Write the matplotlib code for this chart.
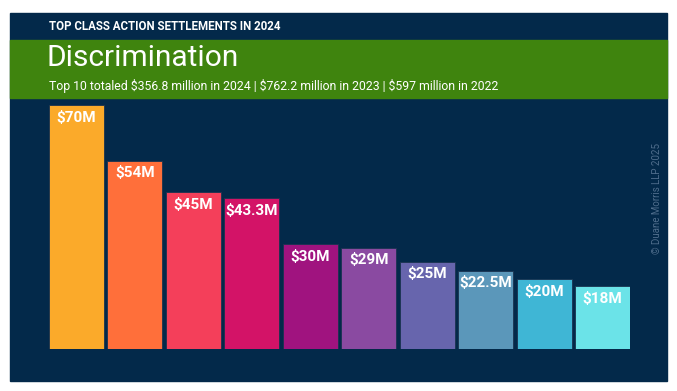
import matplotlib.pyplot as plt
from matplotlib.patches import Rectangle

plt.rcParams['font.family'] = ['Roboto', 'DejaVu Sans']

amounts = [70, 54, 45, 43.3, 30, 29, 25, 22.5, 20, 18]
labels = ['$70M', '$54M', '$45M', '$43.3M', '$30M', '$29M', '$25M', '$22.5M', '$20M', '$18M']
colors = ['#FBAA2A', '#FF6F3A', '#F43F5A', '#D31367', '#A0137F',
          '#8A4AA1', '#6765AD', '#5B97BA', '#3FB6D5', '#6BE3E8']

W, H = 677, 391
navy = '#03294A'
green = '#3F840E'

fig = plt.figure(figsize=(W / 100, H / 100), dpi=100, facecolor='white')


def fx(px):
    return px / W


def fy(py):
    return 1 - py / H


# dark panel and green header band
fig.patches.append(Rectangle((fx(10), fy(381)), fx(667) - fx(10), fy(13) - fy(381),
                             transform=fig.transFigure, color=navy, zorder=0))
fig.patches.append(Rectangle((fx(10), fy(98)), fx(667) - fx(10), fy(40) - fy(98),
                             transform=fig.transFigure, color=green, zorder=1))

fig.text(fx(49), fy(26), 'TOP CLASS ACTION SETTLEMENTS IN 2024', color='white',
         fontsize=8.3, fontweight='bold', va='center')
fig.text(fx(46), fy(58), 'Discrimination', color='white', fontsize=21.5, va='center')
fig.text(fx(49), fy(86), 'Top 10 totaled $356.8 million in 2024 | $762.2 million in 2023 | $597 million in 2022',
         color='white', fontsize=8.8, va='center')
fig.text(fx(657), fy(198), '\u00a9 Duane Morris LLP 2025', color='#4F6D8C', fontsize=7,
         rotation=90, ha='center', va='center')

ax = fig.add_axes([fx(49), fy(349), fx(630) - fx(49), fy(105) - fy(349)])
ax.set_zorder(5)
ax.set_facecolor('none')
x = list(range(len(amounts)))
bars = ax.bar(x, amounts, width=0.94, color=colors, edgecolor='#1a3350', linewidth=0.6)
for xi, v, lab in zip(x, amounts, labels):
    ax.annotate(lab, (xi, v), xytext=(0, -4), textcoords='offset points',
                ha='center', va='top', color='white', fontsize=11, fontweight='bold')
ax.set_xlim(-0.47, len(amounts) - 0.53)
ax.set_ylim(0, 70)
ax.axis('off')

fig.savefig('out.png', dpi=100, facecolor='white')
